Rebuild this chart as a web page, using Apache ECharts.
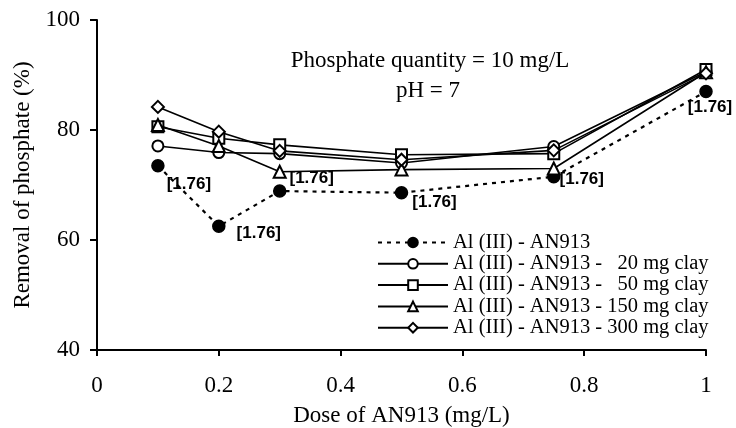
<!DOCTYPE html>
<html><head><meta charset="utf-8">
<script src="https://cdn.jsdelivr.net/npm/echarts@6/dist/echarts.min.js"></script>
<style>html,body{margin:0;padding:0;background:#fff}#c{width:736px;height:428px}</style>
</head><body><div id="c"></div>
<script>
var doses = [0.1, 0.2, 0.3, 0.5, 0.75, 1];
var seriesNames = ['Al (III) - AN913', 'Al (III) - AN913 -   20 mg clay', 'Al (III) - AN913 -   50 mg clay', 'Al (III) - AN913 - 150 mg clay', 'Al (III) - AN913 - 300 mg clay'];
var noClay = [73.5, 62.5, 68.9, 68.6, 71.5, 87.0];
var clay20 = [77.1, 75.9, 75.7, 74.0, 77.0, 90.6];
var clay50 = [80.6, 78.5, 77.3, 75.5, 75.7, 91.0];
var clay150 = [80.9, 77.1, 72.4, 72.8, 73.0, 90.5];
var clay300 = [84.2, 79.7, 76.2, 74.6, 76.3, 90.3];
var pointLabels = ['[1.76]', '[1.76]', '[1.76]', '[1.76]', '[1.76]', '[1.76]'];
var xTicks = [0, 0.2, 0.4, 0.6, 0.8, 1];
var yTicks = [40, 60, 80, 100];
var noteLines = ['Phosphate quantity = 10 mg/L', 'pH = 7'];

var labelOffsets = [[31, 19], [40, 7], [32, -13], [33, 10], [28, 3], [4, 16]];
var serif = 'Liberation Serif';

function pairs(vals) { return vals.map(function (v, i) { return [doses[i], v]; }); }

var dashData = noClay.map(function (v, i) {
  return { value: [doses[i], v], label: { show: true, formatter: pointLabels[i], position: 'inside', offset: labelOffsets[i] } };
});

var symbols = ['circle', 'emptyCircle', 'emptyRect', 'emptyTriangle', 'emptyDiamond'];
var sizes = [12, 11, 11, 12, 12];
var all = [noClay, clay20, clay50, clay150, clay300];

var series = all.map(function (arr, k) {
  var s = {
    name: seriesNames[k], type: 'line', data: k === 0 ? dashData : pairs(arr),
    symbol: symbols[k], symbolSize: sizes[k], z: 2 + k, showSymbol: true,
    lineStyle: { color: '#000', width: k === 0 ? 2.2 : 1.6, type: k === 0 ? [4, 5] : 'solid' },
    itemStyle: { color: '#000', borderColor: '#000', borderWidth: 1.5 },
    emphasis: { disabled: true }, animation: false
  };
  if (k === 0) {
    s.label = { color: '#000', fontFamily: 'Liberation Sans', fontWeight: 'bold', fontSize: 17 };
  }
  return s;
});

var chart = echarts.init(document.getElementById('c'));
chart.setOption({
  backgroundColor: '#fff',
  animation: false,
  grid: { left: 97, right: 30, top: 20, bottom: 78, containLabel: false, outerBoundsMode: 'none' },
  xAxis: {
    type: 'value', min: 0, max: 1, interval: 0.2,
    name: 'Dose of AN913 (mg/L)', nameLocation: 'middle', nameGap: 54,
    nameTextStyle: { fontFamily: serif, fontSize: 23, color: '#000' },
    axisLine: { lineStyle: { color: '#000', width: 2 } },
    axisTick: { inside: false, length: 6, lineStyle: { color: '#000', width: 2 } },
    axisLabel: { fontFamily: serif, fontSize: 23, color: '#000', margin: 24, formatter: function (v) { return xTicks.indexOf(v) >= 0 ? String(v) : ''; } },
    splitLine: { show: false }
  },
  yAxis: {
    type: 'value', min: 40, max: 100, interval: 20,
    name: 'Removal of phosphate (%)', nameLocation: 'middle', nameGap: 62,
    nameTextStyle: { fontFamily: serif, fontSize: 23, color: '#000' },
    axisLine: { show: true, lineStyle: { color: '#000', width: 2 } },
    axisTick: { show: true, length: 7, lineStyle: { color: '#000', width: 2 } },
    axisLabel: { fontFamily: serif, fontSize: 23, color: '#000', margin: 17, formatter: function (v) { return yTicks.indexOf(v) >= 0 ? String(v) : ''; } },
    splitLine: { show: false }
  },
  legend: {
    orient: 'vertical', left: 377, top: 232, padding: 0, itemWidth: 70, itemHeight: 12, itemGap: 0.3,
    textStyle: { fontFamily: serif, fontSize: 20.5, color: '#000', lineHeight: 21 },
    data: seriesNames.slice(),
    selectedMode: false
  },
  graphic: [
    { type: 'text', x: 430, y: 61, style: { text: noteLines[0], font: '23px "Liberation Serif"', fill: '#000', align: 'center', verticalAlign: 'middle' } },
    { type: 'text', x: 428, y: 91, style: { text: noteLines[1], font: '23px "Liberation Serif"', fill: '#000', align: 'center', verticalAlign: 'middle' } }
  ],
  series: series
});
</script></body></html>
